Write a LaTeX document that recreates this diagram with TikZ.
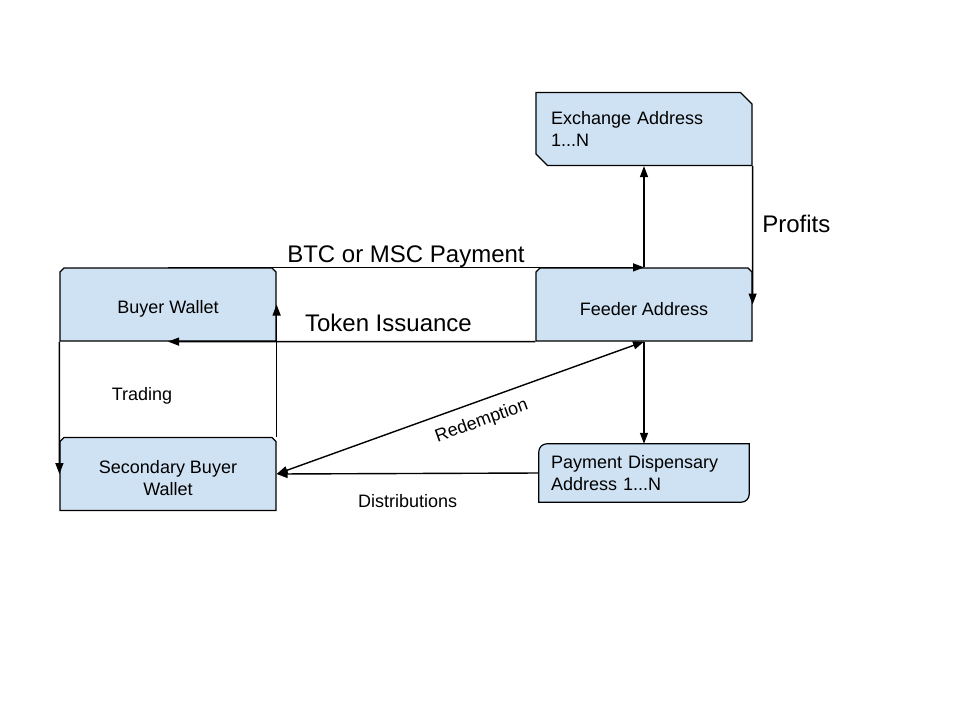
\documentclass[tikz,border=0pt]{standalone}
\usepackage{fontspec}
\setmainfont{Liberation Sans}
\usetikzlibrary{shapes.misc,arrows.meta,backgrounds}
\definecolor{boxblue}{RGB}{207,226,243}
\tikzset{
  box/.style={chamfered rectangle, chamfered rectangle xsep=8pt, draw=black, fill=boxblue,
    line width=1.2pt, minimum width=216pt, minimum height=73pt, inner sep=2pt,
    font=\fontsize{18}{22}\selectfont, align=center},
  boxtext/.style={font=\fontsize{18}{22}\selectfont, align=center, yshift=-4.5pt},
  flow/.style={line width=1.4pt, -{Triangle[length=11pt,width=8pt]}},
  biglabel/.style={font=\fontsize{24}{28}\selectfont, inner sep=1pt},
  smalllabel/.style={font=\fontsize{18}{22}\selectfont, inner sep=1pt},
}

\begin{document}
\begin{tikzpicture}[x=1pt,y=-1pt]
      \useasboundingbox (0,0) rectangle (960,720);
      % boxes
        \node (exch) at (644,129) [box, chamfered rectangle corners={north east,south west}, text width=186pt, inner xsep=7pt, align=left] {Exchange Address\\1...N};
        \node (feeder) at (644,304.5) [box, chamfered rectangle corners={north east,north west}, label={[boxtext]center:Feeder Address}] {};
        \node (buyer) at (168,304.5) [box, chamfered rectangle corners={north east,north west}, label={[boxtext]center:Buyer Wallet}] {};
        \node (sec) at (168,474) [box, chamfered rectangle corners={north east,north west}, label={[boxtext]center:Secondary Buyer\\Wallet}] {};
        \node (pay) at (644,473) [minimum width=210pt, minimum height=58pt, text width=186pt, inner xsep=12pt, inner ysep=2pt, align=left, font=\fontsize{18}{22}\selectfont] {Payment Dispensary\\Address 1...N};
        \begin{scope}[on background layer]
          \draw[line width=1.2pt, fill=boxblue] (pay.south west) -- ([yshift=-8pt]pay.north west) arc[start angle=180, end angle=90, radius=8pt]
            -- (pay.north east) -- ([yshift=8pt]pay.south east) arc[start angle=0, end angle=-90, radius=8pt] -- cycle;
        \end{scope}

      % flows
        \draw[flow] (feeder.north) -- (exch.south);
        \draw[flow] (exch.south east) -- node[biglabel, pos=0.42, right=8pt] (profits) {Profits} (feeder.east);
        \draw[flow] (buyer.north) -- node[biglabel, midway, above=-2pt] (btc) {BTC or MSC Payment} (feeder.north);
        \draw[flow] (feeder.south west) -- node[biglabel, pos=0.4, above=8pt] (token) {Token Issuance} (buyer.south);
        \draw[flow] (buyer.south west) -- (sec.west);
        \draw[flow] (sec.east |- sec.north) -- (buyer.east);
        \draw[flow] (feeder.south) -- (pay.north);
        \draw[flow, {Triangle[length=11pt,width=8pt]}-{Triangle[length=11pt,width=8pt]}] (sec.east) -- node[smalllabel, pos=0.54, sloped, below=10pt] (redeem) {Redemption} (feeder.south);
        \draw[flow] (pay.west) -- node[smalllabel, midway, below=19pt] (distrib) {Distributions} (sec.east);

        \node (trading) at (142,396) [smalllabel] {Trading};
    \end{tikzpicture}
\end{document}
